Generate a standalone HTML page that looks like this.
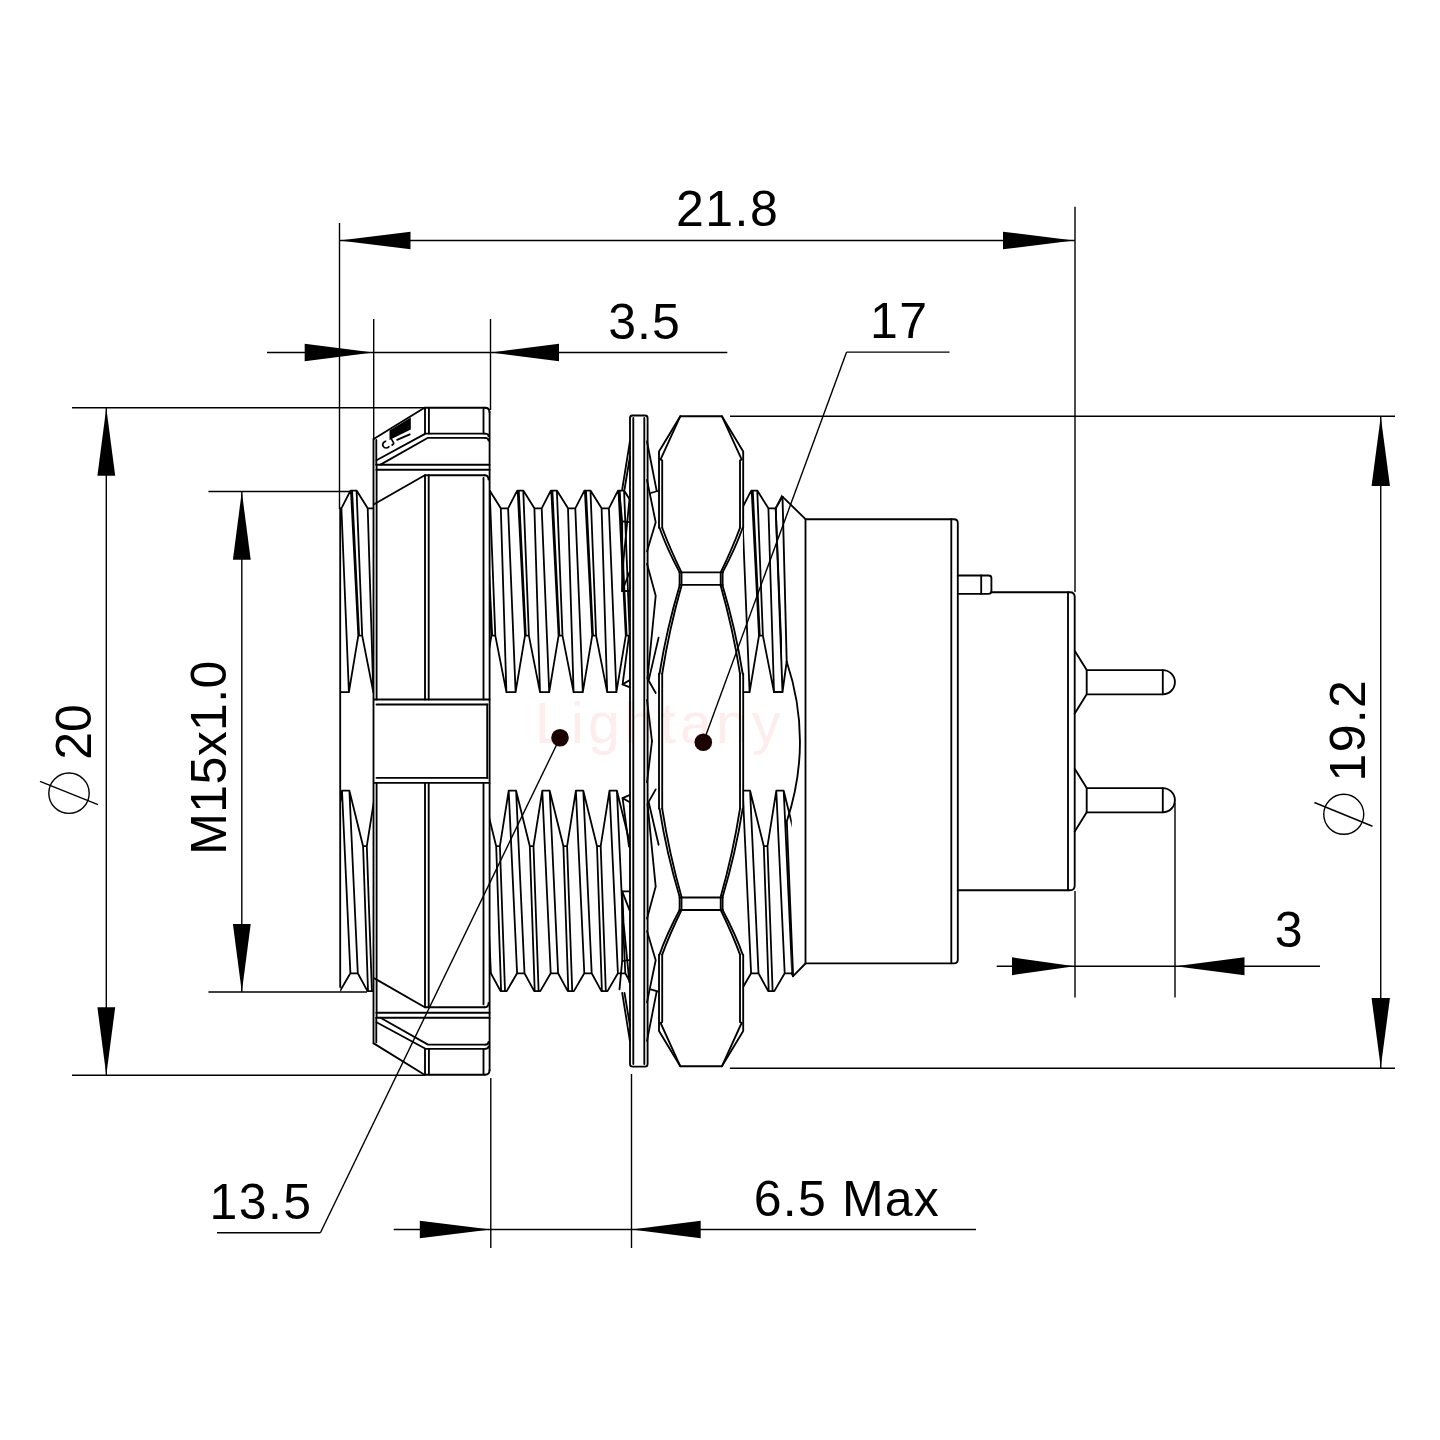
<!DOCTYPE html>
<html><head><meta charset="utf-8"><style>
html,body{margin:0;padding:0;background:#fff;}
svg{display:block;}
.o{fill:none;stroke:#000;stroke-width:1.85;stroke-linejoin:round;stroke-linecap:round;}
.t{fill:none;stroke:#000;stroke-width:1.8;stroke-linejoin:round;stroke-linecap:round;}
.d{fill:none;stroke:#000;stroke-width:1.4;}
.ar{fill:#000;stroke:none;}
text{font-family:"Liberation Sans",sans-serif;fill:#000;}
.wm{fill:#fdeded;}
</style></head><body>
<svg width="1440" height="1440" viewBox="0 0 1440 1440">
<rect width="1440" height="1440" fill="#fff"/>
<text class="wm" x="535" y="743" font-size="57" letter-spacing="4.3">Lightany</text>
<line class="d" x1="339.50" y1="223.00" x2="339.50" y2="509.00"/>
<line class="d" x1="1075.00" y1="206.70" x2="1075.00" y2="592.00"/>
<line class="d" x1="339.50" y1="240.50" x2="1075.00" y2="240.50"/>
<polygon class="ar" points="339.50,240.50 410.50,231.70 410.50,249.30"/>
<polygon class="ar" points="1074.00,240.50 1003.00,231.70 1003.00,249.30"/>
<line class="d" x1="373.70" y1="319.00" x2="373.70" y2="440.00"/>
<line class="d" x1="490.50" y1="319.00" x2="490.50" y2="410.00"/>
<line class="d" x1="267.00" y1="352.50" x2="727.30" y2="352.50"/>
<polygon class="ar" points="373.20,352.50 304.70,343.70 304.70,361.30"/>
<polygon class="ar" points="491.00,352.50 559.00,343.70 559.00,361.30"/>
<line class="d" x1="703.30" y1="742.20" x2="846.60" y2="352.10"/>
<line class="d" x1="846.60" y1="352.10" x2="949.50" y2="352.10"/>
<line class="d" x1="560.00" y1="737.80" x2="320.40" y2="1232.70"/>
<line class="d" x1="320.40" y1="1232.70" x2="217.00" y2="1232.70"/>
<circle cx="560" cy="737.8" r="8.8" fill="#1a0203"/>
<circle cx="703.3" cy="742.2" r="8.8" fill="#1a0203"/>
<line class="d" x1="72.00" y1="407.70" x2="425.00" y2="407.70"/>
<line class="d" x1="72.00" y1="1075.30" x2="425.00" y2="1075.30"/>
<line class="d" x1="106.30" y1="407.70" x2="106.30" y2="1075.30"/>
<polygon class="ar" points="106.30,407.70 97.40,475.70 115.20,475.70"/>
<polygon class="ar" points="106.30,1075.30 97.40,1007.30 115.20,1007.30"/>
<line class="d" x1="208.40" y1="491.50" x2="352.00" y2="491.50"/>
<line class="d" x1="208.40" y1="992.00" x2="367.00" y2="992.00"/>
<line class="d" x1="241.80" y1="491.50" x2="241.80" y2="992.00"/>
<polygon class="ar" points="241.80,491.50 232.90,559.80 250.70,559.80"/>
<polygon class="ar" points="241.80,992.00 232.90,924.00 250.70,924.00"/>
<line class="d" x1="730.00" y1="416.25" x2="1395.00" y2="416.25"/>
<line class="d" x1="730.00" y1="1068.25" x2="1395.00" y2="1068.25"/>
<line class="d" x1="1380.75" y1="416.25" x2="1380.75" y2="1068.25"/>
<polygon class="ar" points="1380.75,416.50 1371.55,486.00 1389.95,486.00"/>
<polygon class="ar" points="1380.75,1067.50 1371.55,998.00 1389.95,998.00"/>
<line class="d" x1="1075.00" y1="891.00" x2="1075.00" y2="997.50"/>
<line class="d" x1="1175.00" y1="803.00" x2="1175.00" y2="997.50"/>
<line class="d" x1="996.70" y1="966.25" x2="1320.00" y2="966.25"/>
<polygon class="ar" points="1074.50,966.25 1012.00,957.35 1012.00,975.15"/>
<polygon class="ar" points="1175.50,966.25 1244.50,957.35 1244.50,975.15"/>
<line class="d" x1="490.80" y1="1078.00" x2="490.80" y2="1248.00"/>
<line class="d" x1="631.50" y1="1074.00" x2="631.50" y2="1248.00"/>
<line class="d" x1="393.75" y1="1229.50" x2="976.00" y2="1229.50"/>
<polygon class="ar" points="490.60,1229.50 419.80,1220.65 419.80,1238.35"/>
<polygon class="ar" points="631.70,1229.50 700.70,1220.65 700.70,1238.35"/>
<circle class="d" cx="69" cy="793.2" r="20.2"/>
<line class="d" x1="40.00" y1="781.30" x2="98.00" y2="804.70"/>
<circle class="d" cx="1343.75" cy="814.3" r="20"/>
<line class="d" x1="1314.40" y1="802.50" x2="1372.50" y2="826.25"/>
<text x="675.90" y="226.25" font-size="50" textLength="101.83" lengthAdjust="spacing">21.8</text>
<text x="608.30" y="339.10" font-size="50" textLength="71.42" lengthAdjust="spacing">3.5</text>
<text x="869.90" y="338.10" font-size="50" textLength="57.12" lengthAdjust="spacing">17</text>
<text x="209.50" y="1218.75" font-size="50" textLength="101.58" lengthAdjust="spacing">13.5</text>
<text x="753.80" y="1215.80" font-size="50" textLength="185.06" lengthAdjust="spacing">6.5 Max</text>
<text x="1274.80" y="946.80" font-size="50">3</text>
<text x="91.10" y="759.80" font-size="50" textLength="55.72" lengthAdjust="spacing" transform="rotate(-90 91.10 759.80)">20</text>
<text x="226.40" y="854.70" font-size="50" textLength="194.08" lengthAdjust="spacing" transform="rotate(-90 226.40 854.70)">M15x1.0</text>
<text x="1365.00" y="781.50" font-size="50" textLength="101.33" lengthAdjust="spacing" transform="rotate(-90 1365.00 781.50)">19.2</text>
<clipPath id="c1"><rect x="489.8" y="480" width="139.40000000000003" height="261"/><rect x="489.8" y="741" width="139.40000000000003" height="260"/></clipPath>
<path class="t" clip-path="url(#c1)" d="M440.90,508.30 L450.00,490.60 L456.10,490.60 L467.20,508.30 L474.50,508.30 M467.20,508.30 L472.80,692.20 M474.50,508.30 L482.00,692.20 M450.50,491.00 L457.80,635.60 M451.60,491.00 L458.60,635.60 M456.10,491.20 L461.70,635.60 M448.40,692.20 L457.80,635.60 L461.70,635.60 L472.80,692.20 L482.00,692.20 M474.50,508.30 L483.60,490.60 L489.70,490.60 L500.80,508.30 L508.10,508.30 M500.80,508.30 L506.40,692.20 M508.10,508.30 L515.60,692.20 M484.10,491.00 L491.40,635.60 M485.20,491.00 L492.20,635.60 M489.70,491.20 L495.30,635.60 M482.00,692.20 L491.40,635.60 L495.30,635.60 L506.40,692.20 L515.60,692.20 M508.10,508.30 L517.20,490.60 L523.30,490.60 L534.40,508.30 L541.70,508.30 M534.40,508.30 L540.00,692.20 M541.70,508.30 L549.20,692.20 M517.70,491.00 L525.00,635.60 M518.80,491.00 L525.80,635.60 M523.30,491.20 L528.90,635.60 M515.60,692.20 L525.00,635.60 L528.90,635.60 L540.00,692.20 L549.20,692.20 M541.70,508.30 L550.80,490.60 L556.90,490.60 L568.00,508.30 L575.30,508.30 M568.00,508.30 L573.60,692.20 M575.30,508.30 L582.80,692.20 M551.30,491.00 L558.60,635.60 M552.40,491.00 L559.40,635.60 M556.90,491.20 L562.50,635.60 M549.20,692.20 L558.60,635.60 L562.50,635.60 L573.60,692.20 L582.80,692.20 M575.30,508.30 L584.40,490.60 L590.50,490.60 L601.60,508.30 L608.90,508.30 M601.60,508.30 L607.20,692.20 M608.90,508.30 L616.40,692.20 M584.90,491.00 L592.20,635.60 M586.00,491.00 L593.00,635.60 M590.50,491.20 L596.10,635.60 M582.80,692.20 L592.20,635.60 L596.10,635.60 L607.20,692.20 L616.40,692.20 M608.90,508.30 L618.00,490.60 L624.10,490.60 L635.20,508.30 L642.50,508.30 M635.20,508.30 L640.80,692.20 M642.50,508.30 L650.00,692.20 M618.50,491.00 L625.80,635.60 M619.60,491.00 L626.60,635.60 M624.10,491.20 L629.70,635.60 M616.40,692.20 L625.80,635.60 L629.70,635.60 L640.80,692.20 L650.00,692.20 M642.50,508.30 L651.60,490.60 L657.70,490.60 L668.80,508.30 L676.10,508.30 M668.80,508.30 L674.40,692.20 M676.10,508.30 L683.60,692.20 M652.10,491.00 L659.40,635.60 M653.20,491.00 L660.20,635.60 M657.70,491.20 L663.30,635.60 M650.00,692.20 L659.40,635.60 L663.30,635.60 L674.40,692.20 L683.60,692.20 M457.30,973.30 L467.00,991.10 L473.10,991.10 L483.50,973.30 L490.90,973.30 M483.50,973.30 L475.10,790.70 M490.90,973.30 L482.50,790.70 M467.50,990.70 L462.60,846.20 M471.40,990.70 L466.30,846.20 M448.90,790.70 L462.60,846.20 L466.30,846.20 L475.10,790.70 L482.50,790.70 M490.90,973.30 L500.60,991.10 L506.70,991.10 L517.10,973.30 L524.50,973.30 M517.10,973.30 L508.70,790.70 M524.50,973.30 L516.10,790.70 M501.10,990.70 L496.20,846.20 M505.00,990.70 L499.90,846.20 M482.50,790.70 L496.20,846.20 L499.90,846.20 L508.70,790.70 L516.10,790.70 M524.50,973.30 L534.20,991.10 L540.30,991.10 L550.70,973.30 L558.10,973.30 M550.70,973.30 L542.30,790.70 M558.10,973.30 L549.70,790.70 M534.70,990.70 L529.80,846.20 M538.60,990.70 L533.50,846.20 M516.10,790.70 L529.80,846.20 L533.50,846.20 L542.30,790.70 L549.70,790.70 M558.10,973.30 L567.80,991.10 L573.90,991.10 L584.30,973.30 L591.70,973.30 M584.30,973.30 L575.90,790.70 M591.70,973.30 L583.30,790.70 M568.30,990.70 L563.40,846.20 M572.20,990.70 L567.10,846.20 M549.70,790.70 L563.40,846.20 L567.10,846.20 L575.90,790.70 L583.30,790.70 M591.70,973.30 L601.40,991.10 L607.50,991.10 L617.90,973.30 L625.30,973.30 M617.90,973.30 L609.50,790.70 M625.30,973.30 L616.90,790.70 M601.90,990.70 L597.00,846.20 M605.80,990.70 L600.70,846.20 M583.30,790.70 L597.00,846.20 L600.70,846.20 L609.50,790.70 L616.90,790.70 M625.30,973.30 L635.00,991.10 L641.10,991.10 L651.50,973.30 L658.90,973.30 M651.50,973.30 L643.10,790.70 M658.90,973.30 L650.50,790.70 M635.50,990.70 L630.60,846.20 M639.40,990.70 L634.30,846.20 M616.90,790.70 L630.60,846.20 L634.30,846.20 L643.10,790.70 L650.50,790.70 M658.90,973.30 L668.60,991.10 L674.70,991.10 L685.10,973.30 L692.50,973.30 M685.10,973.30 L676.70,790.70 M692.50,973.30 L684.10,790.70 M669.10,990.70 L664.20,846.20 M673.00,990.70 L667.90,846.20 M650.50,790.70 L664.20,846.20 L667.90,846.20 L676.70,790.70 L684.10,790.70"/>
<clipPath id="c2"><rect x="340.2" y="480" width="33.5" height="261"/><rect x="340.2" y="741" width="33.5" height="260"/></clipPath>
<path class="t" clip-path="url(#c2)" d="M307.80,508.30 L316.90,490.60 L323.00,490.60 L334.10,508.30 L341.40,508.30 M334.10,508.30 L339.70,692.20 M341.40,508.30 L348.90,692.20 M317.40,491.00 L324.70,635.60 M318.50,491.00 L325.50,635.60 M323.00,491.20 L328.60,635.60 M315.30,692.20 L324.70,635.60 L328.60,635.60 L339.70,692.20 L348.90,692.20 M341.40,508.30 L350.50,490.60 L356.60,490.60 L367.70,508.30 L375.00,508.30 M367.70,508.30 L373.30,692.20 M375.00,508.30 L382.50,692.20 M351.00,491.00 L358.30,635.60 M352.10,491.00 L359.10,635.60 M356.60,491.20 L362.20,635.60 M348.90,692.20 L358.30,635.60 L362.20,635.60 L373.30,692.20 L382.50,692.20 M375.00,508.30 L384.10,490.60 L390.20,490.60 L401.30,508.30 L408.60,508.30 M401.30,508.30 L406.90,692.20 M408.60,508.30 L416.10,692.20 M384.60,491.00 L391.90,635.60 M385.70,491.00 L392.70,635.60 M390.20,491.20 L395.80,635.60 M382.50,692.20 L391.90,635.60 L395.80,635.60 L406.90,692.20 L416.10,692.20 M290.60,973.30 L300.30,991.10 L306.40,991.10 L316.80,973.30 L324.20,973.30 M316.80,973.30 L308.40,790.70 M324.20,973.30 L315.80,790.70 M300.80,990.70 L295.90,846.20 M304.70,990.70 L299.60,846.20 M282.20,790.70 L295.90,846.20 L299.60,846.20 L308.40,790.70 L315.80,790.70 M324.20,973.30 L333.90,991.10 L340.00,991.10 L350.40,973.30 L357.80,973.30 M350.40,973.30 L342.00,790.70 M357.80,973.30 L349.40,790.70 M334.40,990.70 L329.50,846.20 M338.30,990.70 L333.20,846.20 M315.80,790.70 L329.50,846.20 L333.20,846.20 L342.00,790.70 L349.40,790.70 M357.80,973.30 L367.50,991.10 L373.60,991.10 L384.00,973.30 L391.40,973.30 M384.00,973.30 L375.60,790.70 M391.40,973.30 L383.00,790.70 M368.00,990.70 L363.10,846.20 M371.90,990.70 L366.80,846.20 M349.40,790.70 L363.10,846.20 L366.80,846.20 L375.60,790.70 L383.00,790.70 M391.40,973.30 L401.10,991.10 L407.20,991.10 L417.60,973.30 L425.00,973.30 M417.60,973.30 L409.20,790.70 M425.00,973.30 L416.60,790.70 M401.60,990.70 L396.70,846.20 M405.50,990.70 L400.40,846.20 M383.00,790.70 L396.70,846.20 L400.40,846.20 L409.20,790.70 L416.60,790.70"/>
<clipPath id="c3"><rect x="742.8" y="480" width="39.200000000000045" height="261"/><rect x="742.8" y="741" width="49.0" height="260"/></clipPath>
<path class="t" clip-path="url(#c3)" d="M708.50,508.30 L717.60,490.60 L723.70,490.60 L734.80,508.30 L742.10,508.30 M734.80,508.30 L740.40,692.20 M742.10,508.30 L749.60,692.20 M718.10,491.00 L725.40,635.60 M719.20,491.00 L726.20,635.60 M723.70,491.20 L729.30,635.60 M716.00,692.20 L725.40,635.60 L729.30,635.60 L740.40,692.20 L749.60,692.20 M742.10,508.30 L751.20,490.60 L757.30,490.60 L768.40,508.30 L775.70,508.30 M768.40,508.30 L774.00,692.20 M775.70,508.30 L783.20,692.20 M751.70,491.00 L759.00,635.60 M752.80,491.00 L759.80,635.60 M757.30,491.20 L762.90,635.60 M749.60,692.20 L759.00,635.60 L762.90,635.60 L774.00,692.20 L783.20,692.20 M775.70,508.30 L784.80,490.60 L790.90,490.60 L802.00,508.30 L809.30,508.30 M802.00,508.30 L807.60,692.20 M809.30,508.30 L816.80,692.20 M785.30,491.00 L792.60,635.60 M786.40,491.00 L793.40,635.60 M790.90,491.20 L796.50,635.60 M783.20,692.20 L792.60,635.60 L796.50,635.60 L807.60,692.20 L816.80,692.20 M809.30,508.30 L818.40,490.60 L824.50,490.60 L835.60,508.30 L842.90,508.30 M835.60,508.30 L841.20,692.20 M842.90,508.30 L850.40,692.20 M818.90,491.00 L826.20,635.60 M820.00,491.00 L827.00,635.60 M824.50,491.20 L830.10,635.60 M816.80,692.20 L826.20,635.60 L830.10,635.60 L841.20,692.20 L850.40,692.20 M724.90,973.30 L734.60,991.10 L740.70,991.10 L751.10,973.30 L758.50,973.30 M751.10,973.30 L742.70,790.70 M758.50,973.30 L750.10,790.70 M735.10,990.70 L730.20,846.20 M739.00,990.70 L733.90,846.20 M716.50,790.70 L730.20,846.20 L733.90,846.20 L742.70,790.70 L750.10,790.70 M758.50,973.30 L768.20,991.10 L774.30,991.10 L784.70,973.30 L792.10,973.30 M784.70,973.30 L776.30,790.70 M792.10,973.30 L783.70,790.70 M768.70,990.70 L763.80,846.20 M772.60,990.70 L767.50,846.20 M750.10,790.70 L763.80,846.20 L767.50,846.20 L776.30,790.70 L783.70,790.70 M792.10,973.30 L801.80,991.10 L807.90,991.10 L818.30,973.30 L825.70,973.30 M818.30,973.30 L809.90,790.70 M825.70,973.30 L817.30,790.70 M802.30,990.70 L797.40,846.20 M806.20,990.70 L801.10,846.20 M783.70,790.70 L797.40,846.20 L801.10,846.20 L809.90,790.70 L817.30,790.70"/>
<line class="o" x1="340.20" y1="508.50" x2="340.20" y2="987.00"/>
<path class="o" d="M775.70,508.30 L782.50,496.60 L805.50,519.20"/>
<path class="o" d="M782.5,496.6 L786.7,661.5 Q813.2,741.2 786.8,821.40 L793.1,976.2"/>
<path class="o" d="M775.70,508.30 L782.50,691.90 L786.70,661.50"/>
<line class="o" x1="774.20" y1="691.90" x2="782.50" y2="691.90"/>
<path class="o" d="M791.60,973.30 L793.10,976.20 L805.50,963.50"/>
<path class="o" d="M373.70,439.00 L424.50,407.70 L485.00,407.70"/>
<path class="o" d="M485,407.70 Q489.5,407.70 489.5,412.20"/>
<line class="o" x1="425.00" y1="408.00" x2="425.00" y2="433.60"/>
<line class="o" x1="428.90" y1="408.00" x2="428.90" y2="433.60"/>
<line class="o" x1="483.50" y1="409.00" x2="483.50" y2="433.60"/>
<path class="o" d="M376.50,460.20 L425.50,433.60 L485.00,433.60"/>
<path class="o" d="M485,433.60 Q488.5,433.60 488.5,436.00"/>
<path class="o" d="M380.50,464.60 L428.00,437.80 L485.00,437.80"/>
<path class="o" d="M485,437.80 Q488.5,437.80 488.5,440.50"/>
<line class="o" x1="376.30" y1="440.00" x2="376.30" y2="464.70"/>
<line class="o" x1="376.30" y1="464.70" x2="489.50" y2="464.70"/>
<line class="o" x1="376.30" y1="469.70" x2="489.50" y2="469.70"/>
<path class="o" d="M374.50,504.00 L424.80,475.20 L484.50,475.20"/>
<path class="o" d="M484.5,475.20 Q488.5,475.20 488.5,479.50"/>
<line class="o" x1="425.00" y1="475.20" x2="425.00" y2="699.50"/>
<line class="o" x1="428.70" y1="475.20" x2="428.70" y2="699.50"/>
<line class="o" x1="483.50" y1="478.00" x2="483.50" y2="699.50"/>
<line class="o" x1="374.00" y1="699.50" x2="489.50" y2="699.50"/>
<line class="o" x1="376.50" y1="704.50" x2="487.50" y2="704.50"/>
<path class="o" d="M373.70,1043.40 L424.50,1074.70 L485.00,1074.70"/>
<path class="o" d="M485,1074.70 Q489.5,1074.70 489.5,1070.20"/>
<line class="o" x1="425.00" y1="1074.40" x2="425.00" y2="1048.80"/>
<line class="o" x1="428.90" y1="1074.40" x2="428.90" y2="1048.80"/>
<line class="o" x1="483.50" y1="1073.40" x2="483.50" y2="1048.80"/>
<path class="o" d="M376.50,1022.20 L425.50,1048.80 L485.00,1048.80"/>
<path class="o" d="M485,1048.80 Q488.5,1048.80 488.5,1046.40"/>
<path class="o" d="M380.50,1017.80 L428.00,1044.60 L485.00,1044.60"/>
<path class="o" d="M485,1044.60 Q488.5,1044.60 488.5,1041.90"/>
<line class="o" x1="376.30" y1="1042.40" x2="376.30" y2="1017.70"/>
<line class="o" x1="376.30" y1="1017.70" x2="489.50" y2="1017.70"/>
<line class="o" x1="376.30" y1="1012.70" x2="489.50" y2="1012.70"/>
<path class="o" d="M374.50,978.40 L424.80,1007.20 L484.50,1007.20"/>
<path class="o" d="M484.5,1007.20 Q488.5,1007.20 488.5,1002.90"/>
<line class="o" x1="425.00" y1="1007.20" x2="425.00" y2="782.90"/>
<line class="o" x1="428.70" y1="1007.20" x2="428.70" y2="782.90"/>
<line class="o" x1="483.50" y1="1004.40" x2="483.50" y2="782.90"/>
<line class="o" x1="374.00" y1="782.90" x2="489.50" y2="782.90"/>
<line class="o" x1="376.50" y1="777.90" x2="487.50" y2="777.90"/>
<polygon points="389.5,430.4 410.8,417.4 410.8,429.4 389.5,440" fill="#000"/>
<line x1="396.5" y1="440.2" x2="410.4" y2="434.2" stroke="#000" stroke-width="2"/>
<g transform="translate(384,450) rotate(-31)" fill="none" stroke="#000" stroke-width="1.7"><path d="M6.5,-6.5 A3.6,3.4 0 1 0 6.5,-0.5"/><path d="M12,-7 L12,-2 Q12,0 10,0 L8.8,0"/></g>
<line class="o" x1="373.50" y1="439.00" x2="373.50" y2="1043.40"/>
<line class="o" x1="376.60" y1="464.70" x2="376.60" y2="699.50"/>
<line class="o" x1="376.60" y1="1017.70" x2="376.60" y2="782.90"/>
<line class="o" x1="489.60" y1="412.00" x2="489.60" y2="1070.40"/>
<line class="o" x1="487.20" y1="704.50" x2="487.20" y2="777.90"/>
<path class="o" d="M630,1064 L630,418 Q630,415.5 632.5,415.5 L645,415.5 Q647.6,415.5 647.6,418 L647.6,1064 Q647.6,1066.6 645,1066.6 L632.5,1066.6 Q630,1066.6 630,1064 Z"/>
<line class="o" x1="633.30" y1="418.00" x2="633.30" y2="1064.00"/>
<line class="o" x1="644.30" y1="418.00" x2="644.30" y2="1064.00"/>
<path class="t" d="M629.90,441.50 L622.20,489.50"/>
<path class="t" d="M629.90,457.00 L624.50,489.50"/>
<path class="t" d="M619.50,493.00 L622.20,522.00 L622.20,591.00"/>
<path class="t" d="M623.60,521.50 L629.40,522.20"/>
<path class="t" d="M629.40,500.00 L623.50,560.00 L622.20,591.00 L629.40,591.00"/>
<path class="t" d="M622.20,591.00 L629.40,572.50"/>
<path class="t" d="M629.00,635.70 L622.60,684.30 L629.40,680.40"/>
<path class="t" d="M622.60,684.30 L629.40,687.20"/>
<path class="t" d="M647.00,441.50 L656.70,491.00"/>
<path class="t" d="M650.80,493.00 L657.60,491.00"/>
<path class="t" d="M647.00,480.00 L655.70,522.20 L647.00,551.40"/>
<path class="t" d="M647.00,563.70 L655.70,595.80 L647.50,678.50 L655.70,693.00"/>
<path class="t" d="M658.60,637.60 L648.90,679.40"/>
<path class="t" d="M647.00,700.00 L652.00,741.20"/>
<path class="t" d="M629.90,1040.90 L622.20,992.90"/>
<path class="t" d="M629.90,1025.40 L624.50,992.90"/>
<path class="t" d="M619.50,989.40 L622.20,960.40 L622.20,891.40"/>
<path class="t" d="M623.60,960.90 L629.40,960.20"/>
<path class="t" d="M629.40,982.40 L623.50,922.40 L622.20,891.40 L629.40,891.40"/>
<path class="t" d="M622.20,891.40 L629.40,909.90"/>
<path class="t" d="M629.00,846.70 L622.60,798.10 L629.40,802.00"/>
<path class="t" d="M622.60,798.10 L629.40,795.20"/>
<path class="t" d="M647.00,1040.90 L656.70,991.40"/>
<path class="t" d="M650.80,989.40 L657.60,991.40"/>
<path class="t" d="M647.00,1002.40 L655.70,960.20 L647.00,931.00"/>
<path class="t" d="M647.00,918.70 L655.70,886.60 L647.50,803.90 L655.70,789.40"/>
<path class="t" d="M658.60,844.80 L648.90,803.00"/>
<path class="t" d="M647.00,782.40 L652.00,741.20"/>
<path class="o" d="M680.30,416.20 L659.00,451.40 L659.00,527.80"/>
<path class="o" d="M680.10,416.60 L660.60,459.40 L662.20,460.50 L662.20,527.80"/>
<path class="o" d="M659.50,527.80 Q666.60,548.00 679.60,572.40"/>
<path class="o" d="M662.20,527.80 Q669.60,548.00 681.50,572.40"/>
<line class="o" x1="679.60" y1="572.40" x2="679.60" y2="584.90"/>
<line class="o" x1="681.50" y1="572.40" x2="681.50" y2="584.90"/>
<path class="o" d="M679.80,584.90 Q666.50,629.30 659.50,673.75"/>
<path class="o" d="M681.70,584.90 Q669.10,629.30 662.20,673.75"/>
<path class="o" d="M680.30,1066.20 L659.00,1031.00 L659.00,954.60"/>
<path class="o" d="M680.10,1065.80 L660.60,1023.00 L662.20,1021.90 L662.20,954.60"/>
<path class="o" d="M659.50,954.60 Q666.60,934.40 679.60,910.00"/>
<path class="o" d="M662.20,954.60 Q669.60,934.40 681.50,910.00"/>
<line class="o" x1="679.60" y1="910.00" x2="679.60" y2="897.50"/>
<line class="o" x1="681.50" y1="910.00" x2="681.50" y2="897.50"/>
<path class="o" d="M679.80,897.50 Q666.50,853.10 659.50,808.65"/>
<path class="o" d="M681.70,897.50 Q669.10,853.10 662.20,808.65"/>
<line class="o" x1="659.00" y1="673.75" x2="659.00" y2="808.65"/>
<line class="o" x1="662.20" y1="673.75" x2="662.20" y2="808.65"/>
<path class="o" d="M721.90,416.20 L743.20,451.40 L743.20,527.80"/>
<path class="o" d="M722.10,416.60 L741.60,459.40 L740.00,460.50 L740.00,527.80"/>
<path class="o" d="M742.70,527.80 Q735.60,548.00 722.60,572.40"/>
<path class="o" d="M740.00,527.80 Q732.60,548.00 720.70,572.40"/>
<line class="o" x1="722.60" y1="572.40" x2="722.60" y2="584.90"/>
<line class="o" x1="720.70" y1="572.40" x2="720.70" y2="584.90"/>
<path class="o" d="M722.40,584.90 Q735.70,629.30 742.70,673.75"/>
<path class="o" d="M720.50,584.90 Q733.10,629.30 740.00,673.75"/>
<path class="o" d="M721.90,1066.20 L743.20,1031.00 L743.20,954.60"/>
<path class="o" d="M722.10,1065.80 L741.60,1023.00 L740.00,1021.90 L740.00,954.60"/>
<path class="o" d="M742.70,954.60 Q735.60,934.40 722.60,910.00"/>
<path class="o" d="M740.00,954.60 Q732.60,934.40 720.70,910.00"/>
<line class="o" x1="722.60" y1="910.00" x2="722.60" y2="897.50"/>
<line class="o" x1="720.70" y1="910.00" x2="720.70" y2="897.50"/>
<path class="o" d="M722.40,897.50 Q735.70,853.10 742.70,808.65"/>
<path class="o" d="M720.50,897.50 Q733.10,853.10 740.00,808.65"/>
<line class="o" x1="743.20" y1="673.75" x2="743.20" y2="808.65"/>
<line class="o" x1="740.00" y1="673.75" x2="740.00" y2="808.65"/>
<line class="o" x1="680.30" y1="416.20" x2="721.90" y2="416.20"/>
<line class="o" x1="679.60" y1="572.40" x2="722.60" y2="572.40"/>
<line class="o" x1="679.60" y1="584.90" x2="722.60" y2="584.90"/>
<line class="o" x1="680.30" y1="1066.20" x2="721.90" y2="1066.20"/>
<line class="o" x1="679.60" y1="910.00" x2="722.60" y2="910.00"/>
<line class="o" x1="679.60" y1="897.50" x2="722.60" y2="897.50"/>
<path class="o" d="M805.5,519.2 L954,519.2 Q957.8,519.2 957.8,523 L957.8,959.4 Q957.8,963.3 954,963.3 L805.5,963.3 Z"/>
<line class="o" x1="951.30" y1="519.20" x2="951.30" y2="963.30"/>
<path class="o" d="M957.8,575.5 L988.5,575.5 Q991.4,575.5 991.4,578 L991.4,591 Q991.4,593.9 988.5,593.9 L957.8,593.9"/>
<line class="o" x1="981.20" y1="575.50" x2="981.20" y2="593.90"/>
<path class="o" d="M991.4,592.2 L1070,592.2 Q1074.7,592.2 1074.7,597 L1074.7,885.40 Q1074.7,890.20 1070,890.20 L957.8,890.20"/>
<line class="o" x1="1068.00" y1="592.20" x2="1068.00" y2="890.20"/>
<path class="o" d="M1074.7,650.80 L1086.7,670.10 L1162.8,670.10 A12.1,12.1 0 0 1 1162.8,694.30 L1086.7,694.30 L1074.7,713.60"/>
<line class="o" x1="1086.70" y1="670.10" x2="1086.70" y2="694.30"/>
<line class="o" x1="1162.80" y1="670.10" x2="1162.80" y2="694.30"/>
<path class="o" d="M1074.7,768.80 L1086.7,788.10 L1162.8,788.10 A12.1,12.1 0 0 1 1162.8,812.30 L1086.7,812.30 L1074.7,831.60"/>
<line class="o" x1="1086.70" y1="788.10" x2="1086.70" y2="812.30"/>
<line class="o" x1="1162.80" y1="788.10" x2="1162.80" y2="812.30"/>
</svg>
</body></html>
